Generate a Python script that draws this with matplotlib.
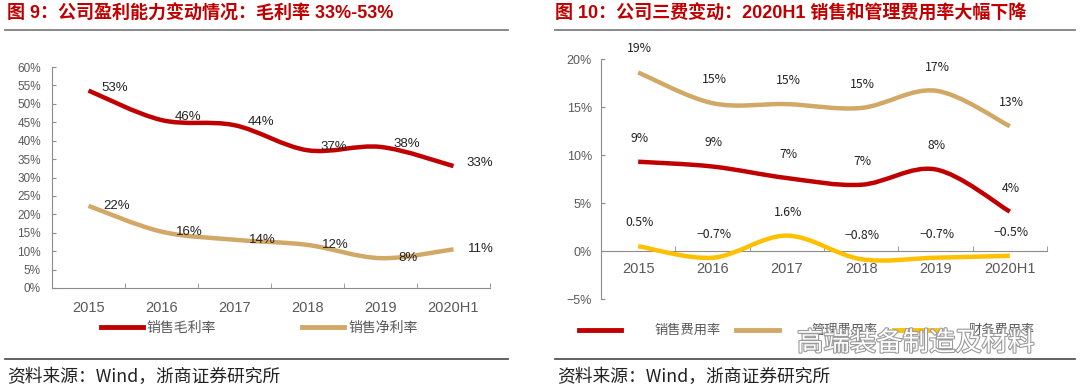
import numpy as np
import matplotlib
matplotlib.use('Agg')
import matplotlib.pyplot as plt
from matplotlib.path import Path
from matplotlib.patches import PathPatch
from matplotlib.lines import Line2D
import matplotlib.patheffects as pe

plt.rcParams['font.family'] = ['Liberation Sans', 'Noto Sans CJK SC', 'DejaVu Sans']

# 数据
years = ['2015', '2016', '2017', '2018', '2019', '2020H1']
gross_margin = [53.6, 45.6, 44.2, 37.4, 38.3, 33.1]
gross_labels = ['53%', '46%', '44%', '37%', '38%', '33%']
net_margin = [22.3, 15.3, 13.1, 11.7, 8.1, 10.5]
net_labels = ['22%', '16%', '14%', '12%', '8%', '11%']

sell_rate = [9.3, 8.8, 7.6, 6.9, 8.5, 4.1]
sell_labels = ['9%', '9%', '7%', '7%', '8%', '4%']
admin_rate = [18.6, 15.4, 15.3, 14.9, 16.7, 13.0]
admin_labels = ['19%', '15%', '15%', '15%', '17%', '13%']
fin_rate = [0.5, -0.7, 1.6, -0.85, -0.7, -0.5]
fin_labels = ['0.5%', '−0.7%', '1.6%', '−0.8%', '−0.7%', '−0.5%']

left_yticks = [0, 5, 10, 15, 20, 25, 30, 35, 40, 45, 50, 55, 60]
right_yticks = [-5, 0, 5, 10, 15, 20]

RED = '#C00000'
TAN = '#D2A867'
YEL = '#FFC000'
GREY = '#595959'
AXC = '#8C8C8C'


def smooth_line(ax, y, color):
    # 类似Excel的平滑曲线
    x = np.arange(len(y))
    n = len(y)
    verts = [(x[0], y[0])]
    codes = [Path.MOVETO]
    for i in range(n - 1):
        p0 = max(i - 1, 0)
        p3 = min(i + 2, n - 1)
        c1 = (x[i] + (x[i + 1] - x[p0]) / 6, y[i] + (y[i + 1] - y[p0]) / 6)
        c2 = (x[i + 1] - (x[p3] - x[i]) / 6, y[i + 1] - (y[p3] - y[i]) / 6)
        verts += [c1, c2, (x[i + 1], y[i + 1])]
        codes += [Path.CURVE4] * 3
    ax.add_patch(PathPatch(Path(verts, codes), fill=False, ec=color, lw=3.2,
                           capstyle='butt', joinstyle='round', zorder=3))


fig = plt.figure(figsize=(10.8, 3.87), dpi=100)

# 标题和分隔线
fig.text(7 / 1080, 1 - 14 / 387, '图 9：公司盈利能力变动情况：毛利率 33%-53%', color=RED,
         fontsize=13, fontweight='bold', va='center', ha='left')
fig.text(555 / 1080, 1 - 14 / 387, '图 10：公司三费变动：2020H1 销售和管理费用率大幅下降', color=RED,
         fontsize=13, fontweight='bold', va='center', ha='left')
for x0, x1 in [(5, 508), (555, 1075)]:
    fig.add_artist(Line2D([x0 / 1080, x1 / 1080], [1 - 30 / 387] * 2, color='#808080', lw=1.3))
    fig.add_artist(Line2D([x0 / 1080, x1 / 1080], [1 - 359 / 387] * 2, color='#555555', lw=1.3))
fig.text(7 / 1080, 1 - 377 / 387, '资料来源：Wind，浙商证券研究所', fontsize=12.8, va='center', ha='left',
         color='#222222', family=['Noto Sans CJK SC'])
fig.text(557 / 1080, 1 - 377 / 387, '资料来源：Wind，浙商证券研究所', fontsize=12.8, va='center', ha='left',
         color='#222222', family=['Noto Sans CJK SC'])

# 左图
ax1 = fig.add_axes([52 / 1080, 1 - 288 / 387, 438 / 1080, 221 / 387])
smooth_line(ax1, gross_margin, RED)
smooth_line(ax1, net_margin, TAN)
for i in range(len(years)):
    ax1.annotate(gross_labels[i], (i, gross_margin[i]), xytext=(19, 2), textcoords='offset points',
                 ha='center', va='center', fontsize=9.5, color='#222222')
    ax1.annotate(net_labels[i], (i, net_margin[i]), xytext=(20, 0), textcoords='offset points',
                 ha='center', va='center', fontsize=9.5, color='#222222')
ax1.set_xlim(-0.5, 5.5)
ax1.set_ylim(0, 60)
ax1.set_yticks(left_yticks)
ax1.set_yticklabels([f'{v}%' for v in left_yticks])
ax1.set_xticks(range(len(years)))
ax1.set_xticklabels(years)
ax1.set_xticks(np.arange(0.5, 6, 1), minor=True)
ax1.tick_params(axis='x', which='major', length=0, pad=9, labelsize=10.5, colors=GREY)
ax1.tick_params(axis='x', which='minor', length=3.5, direction='in', color=AXC)
ax1.tick_params(axis='y', length=3, direction='in', pad=8, labelsize=8.5, colors=GREY, color=AXC)
for s in ['top', 'right']:
    ax1.spines[s].set_visible(False)
for s in ['left', 'bottom']:
    ax1.spines[s].set_color(AXC)
ax1.legend(handles=[Line2D([], [], color=RED, lw=3.5, label='销售毛利率'),
                    Line2D([], [], color=TAN, lw=3.5, label='销售净利率')],
           loc='center left', bbox_to_anchor=(0.112, -0.18), ncol=2, frameon=False,
           handlelength=3.0, handletextpad=0.3, columnspacing=6.2, fontsize=10,
           borderpad=0, borderaxespad=0, labelcolor=GREY)

# 右图
ax2 = fig.add_axes([601 / 1080, 1 - 299 / 387, 446 / 1080, 240 / 387])
smooth_line(ax2, admin_rate, TAN)
smooth_line(ax2, sell_rate, RED)
smooth_line(ax2, fin_rate, YEL)
for vals, labs in [(admin_rate, admin_labels), (sell_rate, sell_labels), (fin_rate, fin_labels)]:
    for i in range(len(years)):
        ax2.annotate(labs[i], (i, vals[i]), xytext=(1, 17), textcoords='offset points',
                     ha='center', va='center', fontsize=8.8, color='#222222',
                     family=['Noto Sans CJK SC'])
ax2.set_xlim(-0.5, 5.5)
ax2.set_ylim(-5, 20)
ax2.set_yticks(right_yticks)
ax2.set_yticklabels([f'{v}%'.replace('-', '−') for v in right_yticks])
ax2.set_xticks(range(len(years)))
ax2.set_xticklabels(years)
ax2.set_xticks(np.arange(0.5, 6, 1), minor=True)
ax2.tick_params(axis='x', which='major', length=0, pad=8, labelsize=10.5, colors=GREY)
ax2.tick_params(axis='x', which='minor', length=3.5, direction='in', color=AXC)
ax2.tick_params(axis='y', length=3, direction='in', pad=6.5, labelsize=9, colors=GREY, color=AXC)
ax2.spines['bottom'].set_position(('data', 0))
for s in ['top', 'right']:
    ax2.spines[s].set_visible(False)
for s in ['left', 'bottom']:
    ax2.spines[s].set_color(AXC)
ax2.legend(handles=[Line2D([], [], color=RED, lw=3.5, label='销售费用率'),
                    Line2D([], [], color=TAN, lw=3.5, label='管理费用率'),
                    Line2D([], [], color=YEL, lw=3.5, label='财务费用率')],
           loc='center left', bbox_to_anchor=(-0.049, -0.133), ncol=3, frameon=False,
           handlelength=3.2, handletextpad=2.5, columnspacing=1.2, fontsize=9.5,
           borderpad=0, borderaxespad=0, labelcolor=GREY)

# 水印
fig.text(797 / 1080, 1 - 343 / 387, '高端装备制造及材料', fontsize=19, color='white',
         va='center', ha='left', family=['Noto Sans CJK SC'], zorder=10,
         path_effects=[pe.withStroke(linewidth=1.6, foreground='#9a9a9a')])

fig.savefig('out.png', dpi=100)
